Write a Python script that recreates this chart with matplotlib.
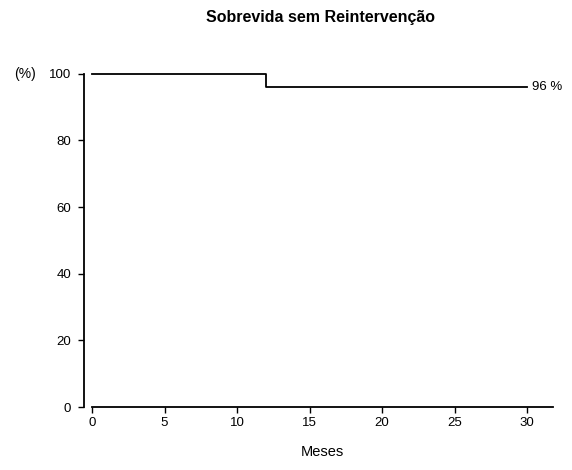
import matplotlib
matplotlib.use("Agg")
import matplotlib.pyplot as plt

# Kaplan-Meier steps
meses = [0, 12, 12, 30]
sobrevida = [100, 100, 96, 96]

xticks = [0, 5, 10, 15, 20, 25, 30]
yticks = [0, 20, 40, 60, 80, 100]

plt.rcParams['font.family'] = ['Liberation Sans', 'DejaVu Sans']

fig = plt.figure(figsize=(5.72, 4.70), dpi=100)
ax = fig.add_axes([0.161, 0.134, 0.806, 0.709])

ax.plot(meses, sobrevida, color="black", lw=1.3, drawstyle="steps-post", clip_on=False)
ax.text(meses[-1] + 0.35, sobrevida[-1], "96 %", fontsize=9.5, va="center", ha="left")

ax.set_xlim(0, 31.8)
ax.set_ylim(0, 100)
ax.set_xticks(xticks)
ax.set_yticks(yticks)
ax.tick_params(labelsize=9.5, length=4, width=1, direction="out")
ax.tick_params(axis="y", pad=5)

for s in ["top", "right"]:
    ax.spines[s].set_visible(False)
ax.spines["left"].set_position(("outward", 6))
ax.spines["left"].set_linewidth(1.3)
ax.spines["bottom"].set_linewidth(1.3)

ax.set_xlabel("Meses", fontsize=10.5, labelpad=11)
fig.text(0.043, 0.843, "(%)", fontsize=10, ha="center", va="center")
fig.text(0.56, 0.963, "Sobrevida sem Reintervenção", fontsize=11.5,
         fontweight="bold", ha="center", va="center")

fig.savefig("out.png", dpi=100)
